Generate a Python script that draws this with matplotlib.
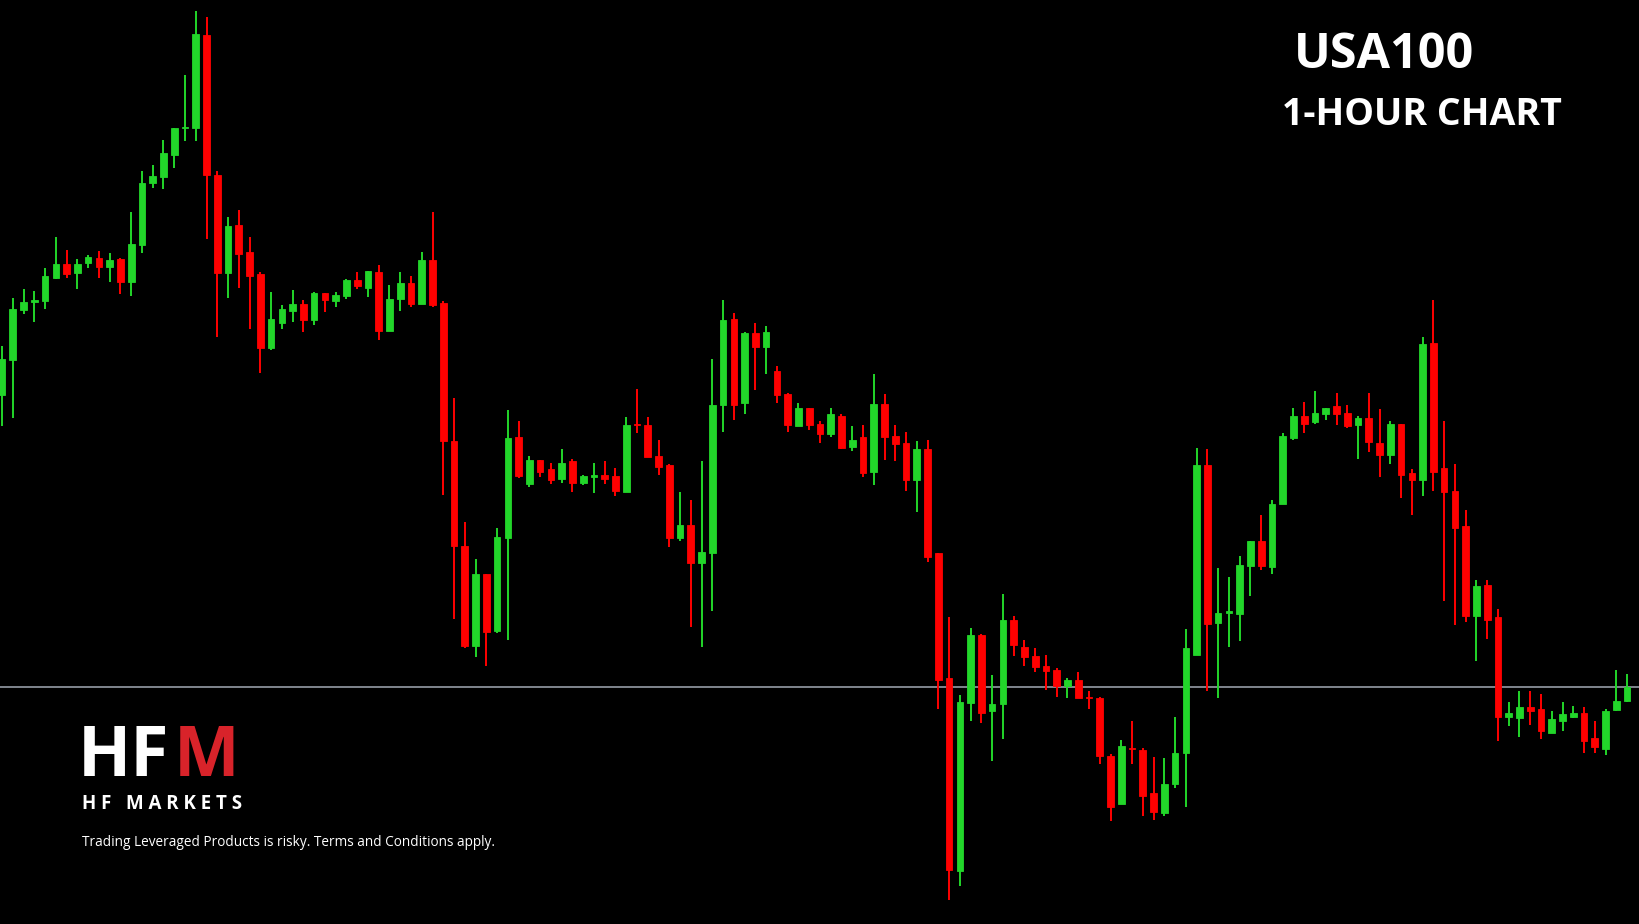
import matplotlib
matplotlib.use("Agg")
import matplotlib.pyplot as plt
import numpy as np

H = 924
# OHLC read as pixel rows from the picture (top = 0); converted to price = H - row
opens = [395,360,310,302,301,278,264,273,263,258,267,259,282,245,183,177,155,128,128,35,
         175,273,225,252,274,348,323,311,304,320,293,301,296,280,288,272,331,299,283,304,
         260,303,441,546,646,574,631,538,437,484,460,469,479,461,483,477,475,476,492,424,
         425,456,465,538,525,563,553,405,319,403,333,347,371,394,426,408,424,434,416,447,
         437,472,404,436,443,480,449,553,678,871,703,635,711,704,620,647,656,666,670,686,
         680,697,698,756,804,748,750,793,813,784,753,655,465,623,613,614,566,541,567,504,
         438,416,422,414,406,413,425,418,443,455,424,473,480,343,468,491,526,616,585,617,
         717,718,707,709,733,721,717,713,738,749,710,701]
highs = [346,298,289,291,268,237,250,259,255,251,253,258,212,171,165,140,128,75,11,17,
         171,217,210,237,272,292,305,290,300,292,293,292,279,272,271,265,285,272,276,252,
         212,301,398,522,559,574,528,410,421,456,460,463,449,459,475,463,461,468,417,389,
         417,440,464,492,500,461,359,300,313,332,323,326,366,393,403,408,421,408,414,426,
         425,374,394,425,432,441,440,553,617,695,628,634,675,594,616,640,648,655,668,678,
         672,691,697,754,740,721,748,757,758,717,629,448,449,568,577,556,541,515,500,433,
         408,402,391,408,393,405,416,393,409,421,424,469,337,300,421,464,510,580,580,609,
         702,691,691,694,711,702,706,707,721,709,670,674]
lows = [426,418,314,322,309,279,278,289,268,278,282,294,296,253,188,189,168,141,141,239,
        337,298,288,329,373,350,329,322,332,325,312,307,299,289,297,340,331,311,307,304,
        307,495,619,648,657,666,633,640,478,487,477,484,483,492,485,493,484,496,492,433,
        457,475,547,541,627,647,611,432,420,414,390,374,403,432,426,430,443,437,449,451,
        477,485,460,461,491,512,562,709,900,886,721,723,761,739,656,666,672,690,697,698,
        698,709,764,821,804,764,816,820,816,788,807,655,691,698,647,641,596,570,574,504,
        440,433,424,420,425,428,459,452,477,464,498,515,496,491,601,625,622,661,639,741,
        726,737,725,739,733,731,718,753,753,755,711,702]
closes = [359,309,302,300,276,264,274,264,257,267,260,282,244,183,176,153,128,127,34,175,
          273,226,254,276,348,319,309,304,320,293,300,295,280,286,271,331,299,283,304,260,
          305,441,546,646,574,632,537,438,476,460,472,480,463,483,476,475,479,491,425,425,
          457,467,538,525,563,552,405,320,405,333,347,332,395,425,408,425,434,414,448,440,
          473,404,437,444,480,449,557,680,870,702,635,713,704,620,645,657,667,671,686,680,
          698,698,756,807,746,749,796,812,784,753,648,465,624,613,611,565,541,566,504,436,
          416,424,413,408,414,426,418,442,455,424,475,480,344,472,492,528,616,586,620,717,
          713,707,711,731,719,714,713,741,747,711,701,687]
ref_level_row = 687

o = H - np.array(opens, float)
h = H - np.array(highs, float)
l = H - np.array(lows, float)
c = H - np.array(closes, float)
n = len(o)
x = np.arange(n)

UP = "#22d62a"
DOWN = "#ff0000"

fig = plt.figure(figsize=(16.4, 9.24), dpi=100, facecolor="black")
ax = fig.add_axes([0, 0, 1, 1])
ax.set_facecolor("black")
ax.set_xlim(-0.19, 152.2)
ax.set_ylim(0, H)
ax.axis("off")

ax.axhline(H - ref_level_row, color="#8a8f98", lw=1.3, zorder=1)

cols = [UP if ci >= oi else DOWN for oi, ci in zip(o, c)]
ax.vlines(x, l, h, colors=cols, lw=1.4, zorder=2)
bottom = np.minimum(o, c)
height = np.maximum(np.abs(c - o), 1.5)
ax.bar(x, height, bottom=bottom, width=0.62, color=cols, edgecolor=cols, lw=0.6, zorder=3)

fam = ["Open Sans", "DejaVu Sans"]
fig.text(1294/1640, 1 - 56/H, "USA100", color="white", fontsize=35, fontweight="bold",
         family=fam, ha="left", va="center")
fig.text(1282/1640, 1 - 115/H, "1-HOUR CHART", color="white", fontsize=27, fontweight="bold",
         family=fam, ha="left", va="center")

fig.text(78/1640, 1 - 758/H, "HF", color="white", fontsize=50, fontweight="bold",
         family=fam, ha="left", va="center")
fig.text(174/1640, 1 - 758/H, "M", color="#d8232a", fontsize=50, fontweight="bold",
         family=fam, ha="left", va="center")
fig.text(82/1640, 1 - 804/H, "H F   M A R K E T S", color="white", fontsize=13.5,
         fontweight="bold", family=fam, ha="left", va="center")
fig.text(82/1640, 1 - 843/H, "Trading Leveraged Products is risky. Terms and Conditions apply.",
         color="white", fontsize=9.8, family=fam, ha="left", va="center")

fig.savefig("out.png", dpi=100, facecolor="black")
